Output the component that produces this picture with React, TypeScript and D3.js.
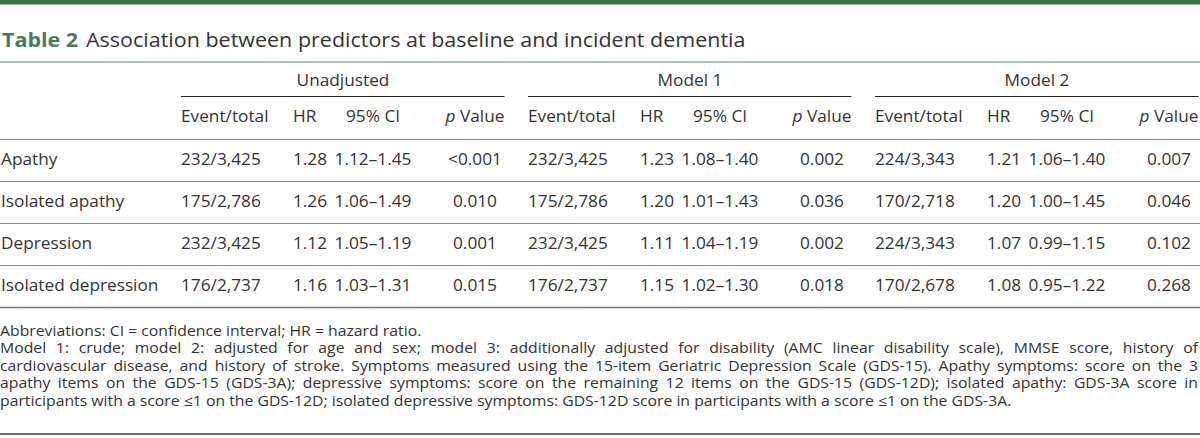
import React, { useEffect, useRef } from "react";
import * as d3 from "d3";

const tableLabel = "Table 2";
const title = "Association between predictors at baseline and incident dementia";
const groups = ["Unadjusted", "Model 1", "Model 2"];
const columns = ["Event/total", "HR", "95% CI", "p Value"];
const predictors = ["Apathy", "Isolated apathy", "Depression", "Isolated depression"];

const unadjustedEvents = ["232/3,425", "175/2,786", "232/3,425", "176/2,737"];
const unadjustedHR = ["1.28", "1.26", "1.12", "1.16"];
const unadjustedCI = ["1.12–1.45", "1.06–1.49", "1.05–1.19", "1.03–1.31"];
const unadjustedP = ["<0.001", "0.010", "0.001", "0.015"];

const model1Events = ["232/3,425", "175/2,786", "232/3,425", "176/2,737"];
const model1HR = ["1.23", "1.20", "1.11", "1.15"];
const model1CI = ["1.08–1.40", "1.01–1.43", "1.04–1.19", "1.02–1.30"];
const model1P = ["0.002", "0.036", "0.002", "0.018"];

const model2Events = ["224/3,343", "170/2,718", "224/3,343", "170/2,678"];
const model2HR = ["1.21", "1.20", "1.07", "1.08"];
const model2CI = ["1.06–1.40", "1.00–1.45", "0.99–1.15", "0.95–1.22"];
const model2P = ["0.007", "0.046", "0.102", "0.268"];

const footnotes = [
  "Abbreviations: CI = confidence interval; HR = hazard ratio.",
  "Model 1: crude; model 2: adjusted for age and sex; model 3: additionally adjusted for disability (AMC linear disability scale), MMSE score, history of",
  "cardiovascular disease, and history of stroke. Symptoms measured using the 15-item Geriatric Depression Scale (GDS-15). Apathy symptoms: score on the 3",
  "apathy items on the GDS-15 (GDS-3A); depressive symptoms: score on the remaining 12 items on the GDS-15 (GDS-12D); isolated apathy: GDS-3A score in",
  "participants with a score ≤1 on the GDS-12D; isolated depressive symptoms: GDS-12D score in participants with a score ≤1 on the GDS-3A.",
];
const justified = [false, true, true, true, false];

const W = 1200;
const H = 438;
const FONT = "'Open Sans', 'Noto Sans', sans-serif";
const GREEN = "#3f6f4c";
const TEXT = "#333333";
const SX = 1.12; // horizontal stretch of the text
const FS = 15.4;
const TITLE_FS = 19.2;
const NOTE_FS = 14.1;

export default function App() {
  const ref = useRef<SVGSVGElement | null>(null);

  useEffect(() => {
    const svg = d3.select(ref.current);
    svg.selectAll("*").remove();
    svg.attr("font-family", FONT);

    const groupData = [
      [unadjustedEvents, unadjustedHR, unadjustedCI, unadjustedP],
      [model1Events, model1HR, model1CI, model1P],
      [model2Events, model2HR, model2CI, model2P],
    ];

    const xGroup = d3.scaleBand<string>().domain(groups).range([181, 181 + 347 * 3]);
    const colOffset = d3.scaleOrdinal<string, number>().domain(columns).range([0, 112, 192, 294]);
    const colAnchor = d3.scaleOrdinal<string, string>().domain(columns).range(["start", "start", "middle", "middle"]);
    const yRow = d3.scaleBand<string>().domain(predictors).range([139, 307]);

    const lines = svg.append("g");
    const texts = svg.append("g").attr("transform", `scale(${SX},1)`).attr("fill", TEXT);
    const addText = (x: number, y: number, size: number, anchor = "start") =>
      texts.append("text").attr("x", x / SX).attr("y", y).attr("font-size", size).attr("text-anchor", anchor);

    // top bar
    lines.append("rect").attr("x", 0).attr("y", 0).attr("width", W).attr("height", 4.5).attr("fill", GREEN);

    // title
    const t = addText(2, 47, TITLE_FS);
    t.append("tspan").attr("font-weight", 700).attr("fill", "#4a7a57").text(tableLabel);
    t.append("tspan").attr("dx", 7).text(title);

    lines.append("line").attr("x1", 0).attr("x2", W).attr("y1", 62).attr("y2", 62).attr("stroke", "#5d8a68").attr("stroke-width", 1.2);

    // group headers
    groups.forEach((g) => {
      const gx = xGroup(g)!;
      addText(gx + 162, 86, FS, "middle").text(g);
      lines.append("line").attr("x1", gx).attr("x2", gx + 323.5).attr("y1", 96.5).attr("y2", 96.5)
        .attr("stroke", "#222").attr("stroke-width", 1);
      columns.forEach((c) => {
        const tx = addText(gx + colOffset(c), 122, FS, colAnchor(c));
        if (c.startsWith("p ")) {
          tx.append("tspan").attr("font-style", "italic").text("p");
          tx.append("tspan").text(c.slice(1));
        } else tx.text(c);
      });
    });

    // header line
    lines.append("line").attr("x1", 0).attr("x2", W).attr("y1", 139.5).attr("y2", 139.5).attr("stroke", "#8a8a8a").attr("stroke-width", 1);

    // rows
    predictors.forEach((p, i) => {
      const y0 = yRow(p)!;
      const base = y0 + yRow.bandwidth() / 2 + 5;
      addText(1, base, FS).text(p);
      groups.forEach((g, gi) => {
        const gx = xGroup(g)!;
        columns.forEach((c, ci) => {
          addText(gx + colOffset(c), base, FS, colAnchor(c)).text(groupData[gi][ci][i]);
        });
      });
      const yb = y0 + yRow.bandwidth();
      const last = i === predictors.length - 1;
      lines.append("line").attr("x1", 0).attr("x2", W).attr("y1", yb + 0.5).attr("y2", yb + 0.5)
        .attr("stroke", last ? "#7a7a7a" : "#8a8a8a").attr("stroke-width", last ? 1.5 : 1);
    });

    // footnotes
    const lineW = 1198 / SX;
    footnotes.forEach((line, i) => {
      const y = 336 + i * 17.5;
      if (!justified[i]) {
        addText(0, y, NOTE_FS).text(line);
        return;
      }
      const words = line.split(" ");
      const widths: number[] = [];
      const nodes = words.map((w) => {
        const n = addText(0, y, NOTE_FS).text(w);
        widths.push((n.node() as SVGTextElement).getComputedTextLength());
        return n;
      });
      const total = d3.sum(widths);
      const gap = (lineW - total) / (words.length - 1);
      let x = 0;
      nodes.forEach((n, k) => {
        n.attr("x", x);
        x += widths[k] + gap;
      });
    });

    lines.append("line").attr("x1", 0).attr("x2", W).attr("y1", 434).attr("y2", 434).attr("stroke", "#6e6e6e").attr("stroke-width", 2);
  }, []);

  return (
    <div style={{ position: "absolute", left: 0, top: 0 }}>
      <svg ref={ref} width={W} height={H} style={{ display: "block", background: "#fff" }} />
    </div>
  );
}
